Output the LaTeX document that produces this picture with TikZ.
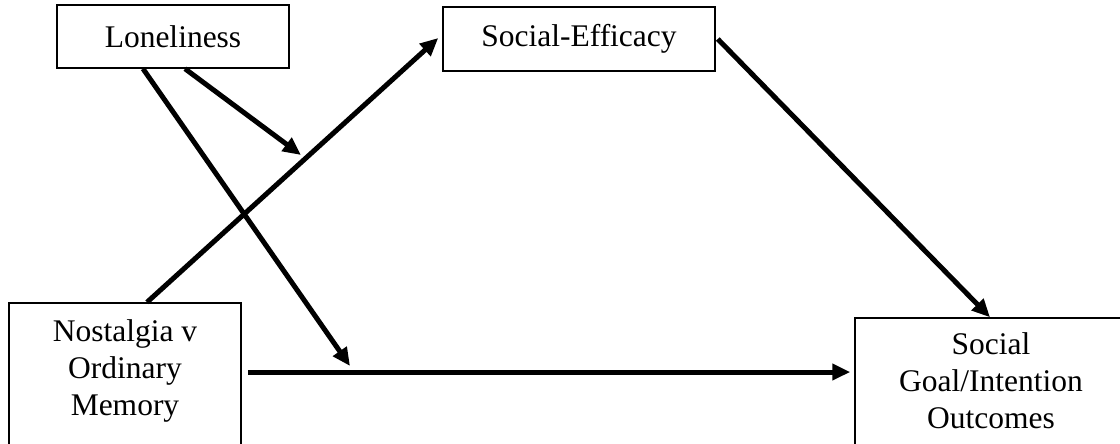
\documentclass[tikz,border=0pt]{standalone}
\usepackage{fontspec}
\setmainfont{Liberation Serif}
\usetikzlibrary{arrows.meta}
\begin{document}
\begin{tikzpicture}[x=1pt,y=-1pt,
  box/.style={draw=black,line width=1.5pt,fill=white,inner sep=0pt},
  lbl/.style={align=center,inner sep=0pt,font=\fontsize{31.5}{37}\selectfont},
  conn/.style={line width=5pt,-{Triangle[length=18pt,width=16pt]}}]
\useasboundingbox (0,0) rectangle (1120,444);
\fill[white] (0,0) rectangle (1120,444);
\clip (0,0) rectangle (1120,444);
% boxes
\node[box,minimum width=232pt,minimum height=63pt] (lon) at (173,36.5) {};
\node[lbl] (lontxt) at (lon.center) {Loneliness};
\node[box,minimum width=272pt,minimum height=64pt] (se) at (579,39) {};
\node[lbl] (setxt) at (se.center) {Social-Efficacy};
\node[box,minimum width=232pt,minimum height=150pt] (nos) at (125,378) {};
\node[lbl] (nostxt) at (125,371) {Nostalgia v\\Ordinary\\Memory};
\node[box,minimum width=272pt,minimum height=142pt] (sg) at (991,389) {};
\node[lbl] (sgtxt) at (991,381) {Social\\Goal/Intention\\Outcomes};
% free ends
\coordinate (m1) at (301,155);
\coordinate (m2) at (350,366);
% connectors
\draw[conn] ([xshift=12pt]lon.south) -- (m1);
\draw[conn] ([xshift=-30pt]lon.south) -- (m2);
\draw[conn] ([xshift=22pt]nos.north) -- ([xshift=-4pt,yshift=1pt]se.west);
\draw[conn] ([xshift=2pt]se.east) -- ([xshift=-1pt]sg.north);
\draw[conn] ([xshift=6pt,yshift=6pt]nos.east) -- ([xshift=-4pt,yshift=17pt]sg.west);
\end{tikzpicture}
\end{document}
